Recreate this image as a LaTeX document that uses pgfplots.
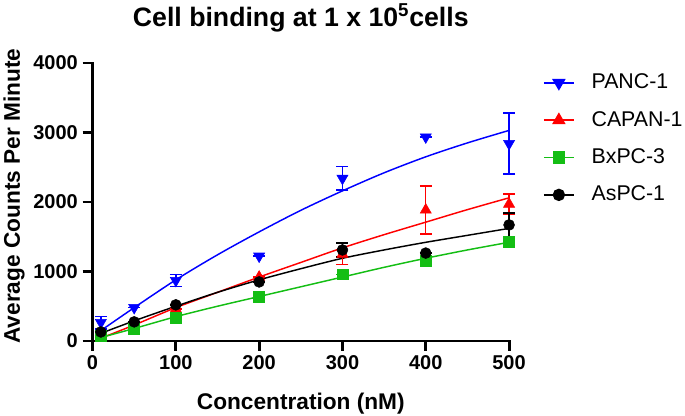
\documentclass[border=0pt]{standalone}
\usepackage{fontspec}
\setmainfont{Liberation Sans}
\usepackage{pgfplots}
\pgfplotsset{compat=1.18}

\definecolor{pancblue}{RGB}{0,0,255}
\definecolor{capanred}{RGB}{255,0,0}
\definecolor{bxgreen}{RGB}{20,190,20}

\pgfplotsset{
  errs/.style={error bars/.cd, y dir=both, y explicit,
    error bar style={line width=1.1pt},
    error mark options={rotate=90, mark size=4.5pt, line width=1.1pt}},
  fit/.style={no marks, line width=1.1pt, smooth, forget plot},
  myimg/.style={legend image code/.code={
    \draw[mark repeat=2, mark phase=2] plot coordinates {(0pt,0pt) (11.25pt,0pt) (22.5pt,0pt)};}},
}

\begin{document}
\begin{tikzpicture}
\path[use as bounding box] (0,0) rectangle (513.75pt,312pt);
\begin{axis}[
  scale only axis, width=312.4pt, height=208.5pt,
  at={(69.4pt,56.25pt)}, anchor=south west,
  xmin=0, xmax=500, ymin=0, ymax=4000,
  axis lines=left, axis line style={-, line width=2.2pt, line cap=rect},
  xtick={0,100,...,500}, ytick={0,1000,...,4000},
  tick align=outside, major tick length=7.5pt,
  tick style={line width=2.2pt, black},
  ticklabel style={font=\bfseries\fontsize{15pt}{15pt}\selectfont},
  /pgf/number format/assume math mode=true,
  /pgf/number format/1000 sep={},
  clip=false, axis on top,
  every axis title shift=0pt,
  title={Cell binding at 1 x 10\textsuperscript{5}cells},
  title style={font=\bfseries\fontsize{20pt}{20pt}\selectfont,
    at={(axis description cs:0.5,1.1295)}, anchor=base},
  xlabel={Concentration (nM)},
  xlabel style={font=\bfseries\fontsize{17pt}{17pt}\selectfont,
    at={(axis description cs:0.5,-0.248)}, anchor=base},
  ylabel={Average Counts Per Minute},
  ylabel style={font=\bfseries\fontsize{17pt}{17pt}\selectfont,
    at={(axis description cs:-0.1885,0.5216)}, anchor=center, rotate=0},
  legend style={draw=none, fill=none, at={(axis description cs:1.0716,0.975)},
    anchor=north west, font=\fontsize{16pt}{16pt}\selectfont,
    nodes={inner sep=0pt, text height=12pt, text depth=3pt},
    row sep=13pt, column sep=12.75pt},
  legend cell align=left,
]
% fitted curves
\addplot[fit, color=pancblue] coordinates {
  (10,150) (50,480) (100,880) (150,1240) (200,1570) (250,1880)
  (300,2160) (350,2420) (400,2650) (450,2850) (500,3030)};
\addplot[fit, color=capanred] coordinates {
  (10,40) (50,230) (100,480) (150,700) (200,920) (250,1130)
  (300,1340) (350,1530) (400,1710) (450,1890) (500,2060)};
\addplot[fit, color=bxgreen] coordinates {
  (10,50) (50,180) (100,350) (150,500) (200,640) (250,780)
  (300,920) (350,1060) (400,1190) (450,1310) (500,1420)};
\addplot[fit, color=black] coordinates {
  (10,110) (50,290) (100,500) (150,700) (200,880) (250,1040)
  (300,1190) (350,1310) (400,1420) (450,1520) (500,1620)};

% measured points
\addplot[only marks, forget plot, color=pancblue, mark=triangle*, mark size=4.8pt,
  mark options={rotate=180, fill=pancblue}, errs] coordinates {
  (10,265) +- (0,90)
  (50,480) +- (0,0)
  (100,870) +- (0,85)
  (200,1220) +- (0,0)
  (300,2340) +- (0,170)
  (400,2935) +- (0,0)
  (500,2840) +- (0,440)};
\addplot[only marks, forget plot, color=capanred, mark=triangle*, mark size=4.8pt,
  mark options={fill=capanred}, errs] coordinates {
  (10,40) +- (0,0)
  (50,220) +- (0,0)
  (100,460) +- (0,0)
  (200,920) +- (0,0)
  (300,1250) +- (0,150)
  (400,1885) +- (0,345)
  (500,1970) +- (0,145)};
\addplot[only marks, forget plot, color=bxgreen, mark=square*, mark size=4.1pt,
  mark options={fill=bxgreen}, errs] coordinates {
  (10,80) +- (0,0)
  (50,170) +- (0,0)
  (100,330) +- (0,0)
  (200,630) +- (0,0)
  (300,960) +- (0,0)
  (400,1160) +- (0,0)
  (500,1425) +- (0,0)};
\addplot[only marks, forget plot, color=black, mark=*, mark size=4.1pt,
  mark options={fill=black}, errs] coordinates {
  (10,130) +- (0,0)
  (50,275) +- (0,0)
  (100,520) +- (0,0)
  (200,850) +- (0,0)
  (300,1310) +- (0,100)
  (400,1265) +- (0,0)
  (500,1670) +- (0,170)};

% legend
\addlegendimage{myimg, color=pancblue, line width=1.1pt, mark=triangle*, mark size=4.8pt, mark options={rotate=180, fill=pancblue}}
\addlegendentry{PANC-1}
\addlegendimage{myimg, color=capanred, line width=1.1pt, mark=triangle*, mark size=4.8pt, mark options={fill=capanred}}
\addlegendentry{CAPAN-1}
\addlegendimage{myimg, color=bxgreen, line width=1.1pt, mark=square*, mark size=4.1pt, mark options={fill=bxgreen}}
\addlegendentry{BxPC-3}
\addlegendimage{myimg, color=black, line width=1.1pt, mark=*, mark size=4.1pt, mark options={fill=black}}
\addlegendentry{AsPC-1}
\end{axis}
\end{tikzpicture}
\end{document}
